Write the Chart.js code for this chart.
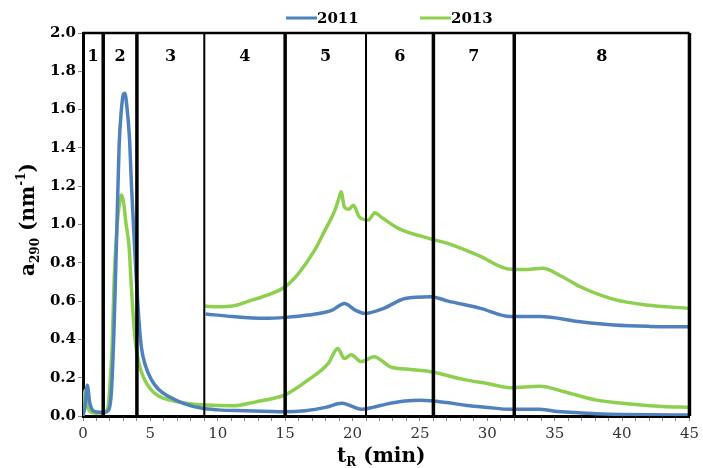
<!DOCTYPE html>
<html>
<head>
<meta charset="utf-8">
<script src="https://cdn.jsdelivr.net/npm/chart.js@4/dist/chart.umd.min.js"></script>
<style>
html,body{margin:0;padding:0;background:#fff;}
#wrap{width:703px;height:468px;position:relative;}
</style>
</head>
<body>
<div id="wrap"><canvas id="c" width="703" height="468"></canvas></div>
<script>
// ---- data ----
const seriesNames = ['2011', '2013'];

const t2011Low = [0,0.15,0.32,0.5,0.8,1.2,1.6,1.9,2.1,2.3,2.5,2.68,2.85,3.0,3.1,3.25,3.45,3.6,3.7,3.85,3.96,4.15,4.33,4.6,5.07,5.6,6.4,7.5,8.85,10,12,14,15,16.5,18,19.2,19.8,20.65,21.5,22.5,23.9,25,25.8,27,28.5,30,31.7,33.8,35,36.5,38.1,40,42,45];
const v2011Low = [0,0.05,0.16,0.07,0.025,0.02,0.02,0.03,0.12,0.45,0.95,1.41,1.6,1.68,1.685,1.62,1.45,1.2,1.06,0.85,0.71,0.5,0.36,0.27,0.19,0.14,0.10,0.065,0.04,0.032,0.027,0.023,0.022,0.028,0.045,0.066,0.055,0.035,0.045,0.062,0.078,0.082,0.08,0.07,0.055,0.045,0.035,0.035,0.025,0.018,0.012,0.008,0.006,0.005];

const t2013Low = [0,0.15,0.3,0.6,1.0,1.5,1.8,1.94,2.05,2.16,2.31,2.43,2.6,2.75,2.85,3.0,3.2,3.42,3.55,3.71,3.9,4.15,4.5,5.06,5.6,6.4,7.5,9.1,11.1,12.9,14,15,16.7,18.2,18.9,19.4,19.9,20.65,21.6,22.8,24,25.8,28.3,30,31.7,33.9,35.7,38.1,40.6,43,45];
const v2013Low = [0,0.135,0.06,0.02,0.015,0.018,0.03,0.10,0.22,0.36,0.71,0.88,1.05,1.13,1.154,1.12,1.0,0.884,0.72,0.536,0.38,0.275,0.2,0.136,0.105,0.084,0.068,0.057,0.053,0.075,0.09,0.11,0.188,0.275,0.353,0.30,0.32,0.284,0.31,0.257,0.245,0.231,0.19,0.17,0.148,0.155,0.127,0.083,0.063,0.05,0.045];

const t2011High = [9.1,11.1,13.5,15,16.7,18.5,19.4,20.2,20.9,22.3,23.9,25.8,27.1,29.5,31.7,33.9,36.9,39.4,42,45];
const v2011High = [0.533,0.519,0.51,0.515,0.527,0.553,0.588,0.553,0.536,0.562,0.614,0.623,0.60,0.562,0.519,0.519,0.492,0.475,0.468,0.466];

const t2013High = [9,10,11.1,12.3,13.5,15,16,17.2,17.9,18.7,19.0,19.15,19.4,19.7,20.06,20.5,21.17,21.66,22.1,23.4,25.8,27.1,29.3,31.7,33,34.1,35.5,36.9,39.4,41.8,45];
const v2013High = [0.574,0.57,0.574,0.6,0.627,0.675,0.745,0.867,0.962,1.076,1.14,1.171,1.09,1.08,1.10,1.04,1.023,1.062,1.04,0.98,0.925,0.90,0.84,0.766,0.765,0.772,0.73,0.675,0.609,0.58,0.562];

const regionBounds = [1.5, 4, 9, 15, 21, 26, 32];
const regionLabels = ['1','2','3','4','5','6','7','8'];
const xTickLabels = [0,5,10,15,20,25,30,35,40,45];

// ---- styles ----
const BLUE = '#4f81bd';
const GREEN = '#8dcf4e';
const SERIF = "'DejaVu Serif'";
const thinBounds = [9, 21];

function pts(ts, vs){ return ts.map((t,i)=>({x:t, y:vs[i]})); }

const ds = (label, ts, vs, color) => ({
  label, data: pts(ts, vs), borderColor: color, backgroundColor: color,
  borderWidth: 3.5, pointRadius: 0, cubicInterpolationMode: 'monotone', fill: false
});

const overlay = {
  id: 'overlay',
  afterDatasetsDraw(chart){
    const {ctx, chartArea:a, scales:{x, y}} = chart;
    ctx.save();
    regionBounds.forEach(b => {
      const px = x.getPixelForValue(b);
      ctx.beginPath();
      ctx.lineWidth = thinBounds.includes(b) ? 2 : 3.5;
      ctx.strokeStyle = '#000';
      ctx.moveTo(px, a.top); ctx.lineTo(px, a.bottom);
      ctx.stroke();
    });
    ctx.lineWidth = 2.5;
    ctx.beginPath(); ctx.moveTo(a.left, a.top); ctx.lineTo(a.right, a.top); ctx.stroke();
    ctx.lineWidth = 3.5;
    ctx.beginPath(); ctx.moveTo(a.right, a.top); ctx.lineTo(a.right, a.bottom); ctx.stroke();
    const edges = [x.min, ...regionBounds, x.max];
    ctx.fillStyle = '#000';
    ctx.font = 'bold 16px ' + SERIF;
    ctx.textAlign = 'center'; ctx.textBaseline = 'middle';
    regionLabels.forEach((lab, i) => {
      const cx = (x.getPixelForValue(edges[i]) + x.getPixelForValue(edges[i+1])) / 2;
      ctx.fillText(lab, cx, a.top + 24);
    });
    const items = [[seriesNames[0], BLUE, 286], [seriesNames[1], GREEN, 420]];
    ctx.font = 'bold 15px ' + SERIF;
    ctx.textAlign = 'left';
    items.forEach(([lab, col, lx]) => {
      ctx.strokeStyle = col; ctx.lineWidth = 3;
      ctx.beginPath(); ctx.moveTo(lx, 18); ctx.lineTo(lx + 31, 18); ctx.stroke();
      ctx.fillStyle = '#000';
      ctx.fillText(lab, lx + 31, 19);
    });
    ctx.fillStyle = '#000';
    ctx.textBaseline = 'alphabetic';
    const cxT = (a.left + a.right) / 2 - 5;
    ctx.font = 'bold 20px ' + SERIF;
    const w1 = ctx.measureText('t').width;
    ctx.font = 'bold 12px ' + SERIF;
    const w2 = ctx.measureText('R').width;
    ctx.font = 'bold 20px ' + SERIF;
    const w3 = ctx.measureText(' (min)').width;
    let sx = cxT - (w1 + w2 + w3) / 2;
    const by = 462;
    ctx.fillText('t', sx, by); sx += w1;
    ctx.font = 'bold 12px ' + SERIF; ctx.fillText('R', sx, by + 4); sx += w2;
    ctx.font = 'bold 20px ' + SERIF; ctx.fillText(' (min)', sx, by);
    ctx.save();
    ctx.translate(34, (a.top + a.bottom) / 2 - 5);
    ctx.rotate(-Math.PI / 2);
    ctx.font = 'bold 20px ' + SERIF;
    const p1 = 'a', p2 = '290', p3 = ' (nm', p4 = '-1', p5 = ')';
    const m1 = ctx.measureText(p1).width;
    ctx.font = 'bold 12px ' + SERIF;
    const m2 = ctx.measureText(p2).width;
    ctx.font = 'bold 20px ' + SERIF;
    const m3 = ctx.measureText(p3).width;
    ctx.font = 'bold 12px ' + SERIF;
    const m4 = ctx.measureText(p4).width;
    ctx.font = 'bold 20px ' + SERIF;
    const m5 = ctx.measureText(p5).width;
    let qx = -(m1 + m2 + m3 + m4 + m5) / 2;
    ctx.textAlign = 'left';
    ctx.fillText(p1, qx, 0); qx += m1;
    ctx.font = 'bold 12px ' + SERIF; ctx.fillText(p2, qx, 5); qx += m2;
    ctx.font = 'bold 20px ' + SERIF; ctx.fillText(p3, qx, 0); qx += m3;
    ctx.font = 'bold 12px ' + SERIF; ctx.fillText(p4, qx, -9); qx += m4;
    ctx.font = 'bold 20px ' + SERIF; ctx.fillText(p5, qx, 0);
    ctx.restore();
    ctx.restore();
  }
};

new Chart(document.getElementById('c'), {
  type: 'line',
  data: {
    datasets: [
      ds(seriesNames[0], t2011Low, v2011Low, BLUE),
      ds(seriesNames[0] + ' ', t2011High, v2011High, BLUE),
      ds(seriesNames[1], t2013Low, v2013Low, GREEN),
      ds(seriesNames[1] + ' ', t2013High, v2013High, GREEN)
    ]
  },
  options: {
    responsive: false,
    animation: false,
    layout: { padding: { top: 33, right: 10, left: 0, bottom: 0 } },
    plugins: { legend: { display: false }, tooltip: { enabled: false } },
    scales: {
      x: {
        type: 'linear', min: 0, max: 45,
        afterFit(s){ s.height = 52; },
        afterBuildTicks(s){ s.ticks = Array.from({length: 46}, (_, i) => ({value: i})); },
        ticks: {
          autoSkip: false, maxRotation: 0, padding: 4,
          font: { family: SERIF, size: 15 }, color: '#333',
          callback: v => xTickLabels.includes(v) ? String(v) : ''
        },
        grid: { drawOnChartArea: false, drawTicks: true, tickLength: 5, color: '#888', tickWidth: 1 },
        border: { display: true, color: '#000', width: 3 }
      },
      y: {
        min: 0, max: 2,
        afterFit(s){ s.width = 83; },
        ticks: {
          stepSize: 0.2, padding: 2,
          font: { family: SERIF, size: 15, weight: 'bold' }, color: '#000',
          callback: v => v.toFixed(1)
        },
        grid: { drawOnChartArea: false, drawTicks: true, tickLength: 5, color: '#888' },
        border: { display: true, color: '#000', width: 3 }
      }
    }
  },
  plugins: [overlay]
});
</script>
</body>
</html>
